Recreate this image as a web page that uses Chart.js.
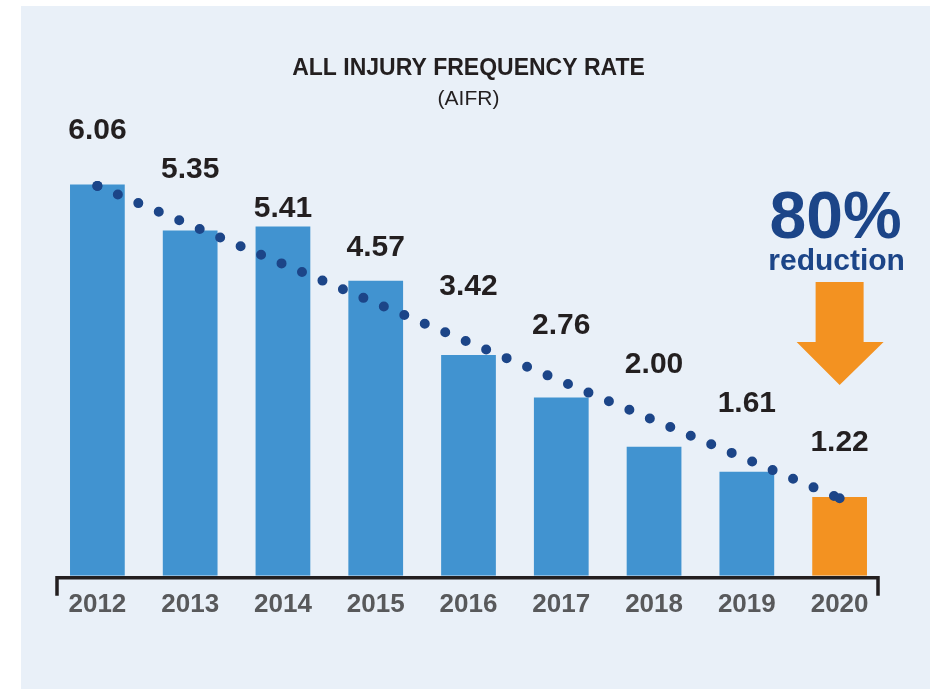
<!DOCTYPE html>
<html><head><meta charset="utf-8">
<script src="https://cdn.jsdelivr.net/npm/chart.js@4/dist/chart.umd.min.js"></script>
<style>
html,body{margin:0;padding:0;background:#fff;width:930px;height:689px;overflow:hidden}
#panel{position:absolute;left:21px;top:6px;width:909px;height:683px;background:#e9f0f8}
#wrap{position:absolute;left:0;top:0;width:930px;height:689px}
</style></head><body>
<div id="panel"></div>
<div id="wrap"><canvas id="c" width="930" height="689"></canvas></div>
<script>
const categories = ['2012','2013','2014','2015','2016','2017','2018','2019','2020'];
const aifrValues = [6.06, 5.35, 5.41, 4.57, 3.42, 2.76, 2.00, 1.61, 1.22];
const valueLabels = ['6.06','5.35','5.41','4.57','3.42','2.76','2.00','1.61','1.22'];
const trendValues = [6.04, null, null, null, null, null, null, null, 1.20];
const highlightIndex = 8;
const titleText = 'ALL INJURY FREQUENCY RATE';
const subtitleText = '(AIFR)';
const calloutBig = '80%';
const calloutSmall = 'reduction';

const FONT = '"Liberation Sans", Arial, Helvetica, sans-serif';
const BLUE = '#4193d0', ORANGE = '#f39221', NAVY = '#1c4588', DARK = '#231f20', GRAY = '#58595b';

const overlay = {
  id: 'overlay',
  afterDatasetsDraw(chart) {
    const ctx = chart.ctx, area = chart.chartArea;
    const barMeta = chart.getDatasetMeta(0);
    const lineMeta = chart.getDatasetMeta(1);
    const p0 = lineMeta.data[0], p1 = lineMeta.data[lineMeta.data.length - 1];
    ctx.save();
    ctx.fillStyle = DARK;
    ctx.font = 'bold 30px ' + FONT;
    ctx.textAlign = 'center';
    ctx.textBaseline = 'alphabetic';
    barMeta.data.forEach((bar, i) => {
      const t = (bar.x - p0.x) / (p1.x - p0.x);
      const ty = p0.y + t * (p1.y - p0.y);
      ctx.fillText(valueLabels[i], bar.x, ty - 47);
    });
    // axis bracket
    ctx.strokeStyle = DARK;
    ctx.lineWidth = 3.5;
    ctx.lineJoin = 'miter';
    ctx.beginPath();
    const yb = area.bottom + 2;
    ctx.moveTo(area.left + 6, yb + 18);
    ctx.lineTo(area.left + 6, yb);
    ctx.lineTo(area.right - 8, yb);
    ctx.lineTo(area.right - 8, yb + 18);
    ctx.stroke();
    // callout
    const cx = barMeta.data[highlightIndex].x;
    ctx.fillStyle = NAVY;
    ctx.font = 'bold 66px ' + FONT;
    ctx.fillText(calloutBig, cx - 4, 238);
    ctx.font = 'bold 30px ' + FONT;
    ctx.fillText(calloutSmall, cx - 3, 270);
    ctx.fillStyle = ORANGE;
    ctx.beginPath();
    ctx.moveTo(cx - 24, 282);
    ctx.lineTo(cx + 24, 282);
    ctx.lineTo(cx + 24, 342);
    ctx.lineTo(cx + 44, 342);
    ctx.lineTo(cx, 385);
    ctx.lineTo(cx - 43, 342);
    ctx.lineTo(cx - 24, 342);
    ctx.closePath();
    ctx.fill();
    ctx.restore();
  }
};

new Chart(document.getElementById('c'), {
  data: {
    labels: categories,
    datasets: [
      {
        type: 'bar',
        data: aifrValues,
        backgroundColor: aifrValues.map((v, i) => i === highlightIndex ? ORANGE : BLUE),
        barPercentage: 0.59,
        categoryPercentage: 1,
        order: 2
      },
      {
        type: 'line',
        data: trendValues,
        spanGaps: true,
        borderColor: NAVY,
        borderWidth: 10,
        borderDash: [0, 22.2],
        borderCapStyle: 'round',
        pointRadius: 5,
        pointBorderWidth: 0,
        pointBackgroundColor: NAVY,
        fill: false,
        order: 1
      }
    ]
  },
  options: {
    responsive: false,
    animation: false,
    devicePixelRatio: 1,
    layout: { padding: { left: 51, right: 44, top: 0, bottom: 56 } },
    plugins: {
      legend: { display: false },
      tooltip: { enabled: false },
      title: {
        display: true, text: titleText, color: DARK,
        font: { family: FONT, size: 23, weight: 'bold' },
        padding: { top: 55, bottom: 4 }
      },
      subtitle: {
        display: true, text: subtitleText, color: DARK,
        font: { family: FONT, size: 21, weight: 'normal' },
        padding: { top: 0, bottom: 5 }
      }
    },
    scales: {
      x: {
        grid: { display: false, drawTicks: false },
        border: { display: false },
        ticks: { color: GRAY, font: { family: FONT, size: 26, weight: 'bold' }, padding: 13 }
      },
      y: { display: false, min: 0, max: 7.11 }
    }
  },
  plugins: [overlay]
});
</script>
</body></html>
